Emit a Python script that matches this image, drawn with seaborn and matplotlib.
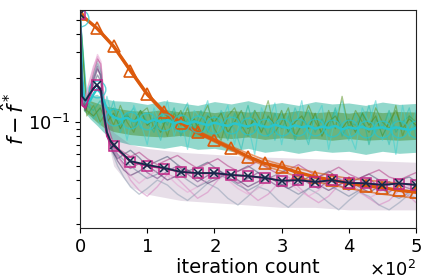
import matplotlib
matplotlib.use('Agg')
from matplotlib import pyplot as plt
import pandas as pd
import seaborn as sns

# noisy runs, iteration grid every 10
x_green = list(range(0, 501, 10))
teal_1 = [0.55, 0.13, 0.12, 0.14, 0.11, 0.125, 0.095, 0.115, 0.09, 0.12,
          0.10, 0.085, 0.115, 0.095, 0.125, 0.08, 0.105, 0.09, 0.12, 0.085,
          0.11, 0.095, 0.075, 0.115, 0.09, 0.13, 0.085, 0.10, 0.08, 0.115,
          0.09, 0.11, 0.075, 0.10, 0.12, 0.085, 0.105, 0.09, 0.125, 0.08,
          0.10, 0.095, 0.115, 0.07, 0.105, 0.09, 0.12, 0.085, 0.10, 0.11,
          0.09]
teal_2 = [0.55, 0.15, 0.105, 0.125, 0.10, 0.14, 0.085, 0.11, 0.125, 0.09,
          0.115, 0.10, 0.075, 0.12, 0.09, 0.11, 0.135, 0.08, 0.10, 0.115,
          0.085, 0.12, 0.10, 0.09, 0.065, 0.105, 0.12, 0.09, 0.11, 0.075,
          0.115, 0.085, 0.125, 0.095, 0.07, 0.11, 0.10, 0.08, 0.12, 0.095,
          0.075, 0.115, 0.09, 0.13, 0.085, 0.10, 0.07, 0.11, 0.095, 0.125,
          0.08]
teal_3 = [0.55, 0.14, 0.13, 0.095, 0.15, 0.10, 0.12, 0.075, 0.13, 0.10,
          0.07, 0.125, 0.095, 0.14, 0.08, 0.11, 0.065, 0.12, 0.105, 0.14,
          0.075, 0.10, 0.13, 0.07, 0.115, 0.095, 0.06, 0.125, 0.10, 0.135,
          0.07, 0.12, 0.09, 0.14, 0.075, 0.105, 0.13, 0.065, 0.11, 0.14,
          0.085, 0.065, 0.125, 0.10, 0.14, 0.075, 0.115, 0.06, 0.13, 0.08,
          0.12]
olive_1 = [0.55, 0.12, 0.11, 0.125, 0.10, 0.115, 0.09, 0.11, 0.10, 0.12,
           0.095, 0.105, 0.085, 0.11, 0.10, 0.12, 0.09, 0.105, 0.08, 0.11,
           0.10, 0.115, 0.085, 0.10, 0.12, 0.09, 0.105, 0.085, 0.11, 0.095,
           0.12, 0.085, 0.10, 0.11, 0.09, 0.115, 0.08, 0.10, 0.11, 0.09,
           0.105, 0.085, 0.115, 0.095, 0.11, 0.08, 0.10, 0.12, 0.09, 0.105,
           0.095]
olive_2 = [0.55, 0.11, 0.13, 0.10, 0.12, 0.095, 0.13, 0.10, 0.085, 0.115,
           0.125, 0.09, 0.11, 0.08, 0.115, 0.095, 0.125, 0.085, 0.105, 0.13,
           0.09, 0.075, 0.11, 0.125, 0.095, 0.08, 0.12, 0.10, 0.14, 0.085,
           0.10, 0.125, 0.08, 0.095, 0.13, 0.10, 0.085, 0.12, 0.09, 0.15,
           0.09, 0.12, 0.10, 0.085, 0.125, 0.10, 0.09, 0.13, 0.08, 0.11,
           0.10]

# spread of the noisy runs
x_band = [5, 15, 25, 35, 50] + list(range(75, 501, 25))
teal_hi = [0.15, 0.15, 0.155, 0.145, 0.14, 0.138, 0.132, 0.14, 0.135, 0.13, 0.138, 0.133,
           0.14, 0.131, 0.136, 0.13, 0.138, 0.133, 0.135, 0.13, 0.137, 0.132, 0.134]
teal_lo = [0.12, 0.105, 0.095, 0.085, 0.075, 0.07, 0.068, 0.066, 0.069, 0.065, 0.066, 0.063,
           0.066, 0.062, 0.064, 0.061, 0.064, 0.062, 0.063, 0.06, 0.063, 0.061, 0.062]
olive_hi = [0.14, 0.14, 0.135, 0.13, 0.125, 0.12, 0.118, 0.122, 0.117, 0.12, 0.116, 0.12,
            0.117, 0.119, 0.115, 0.12, 0.116, 0.118, 0.115, 0.119, 0.116, 0.118, 0.117]
olive_lo = [0.12, 0.11, 0.10, 0.092, 0.086, 0.082, 0.08, 0.079, 0.081, 0.078, 0.079, 0.077,
            0.079, 0.076, 0.078, 0.076, 0.077, 0.075, 0.077, 0.075, 0.076, 0.075, 0.076]

# wavy runs
x_purple = [0, 3, 8, 14, 20, 26, 31, 36, 41, 48,
            56, 65, 75, 88, 100, 115, 130, 145, 160, 175,
            190, 205, 220, 235, 250, 265, 280, 295, 310, 325,
            340, 355, 370, 385, 400, 415, 430, 445, 460, 475,
            490, 500]
purple_1 = [0.55, 0.15, 0.13, 0.16, 0.20, 0.24, 0.20, 0.11, 0.08, 0.066, 0.058, 0.052,
            0.048, 0.052, 0.045, 0.041, 0.046, 0.050, 0.044, 0.039, 0.043, 0.047,
            0.042, 0.038, 0.041, 0.045, 0.040, 0.036, 0.039, 0.043, 0.038, 0.035,
            0.040, 0.037, 0.034, 0.038, 0.041, 0.036, 0.033, 0.037, 0.035, 0.034]
purple_2 = [0.55, 0.17, 0.15, 0.19, 0.24, 0.28, 0.24, 0.13, 0.09, 0.072, 0.060, 0.050,
            0.040, 0.034, 0.031, 0.036, 0.044, 0.041, 0.035, 0.030, 0.033, 0.040,
            0.045, 0.039, 0.033, 0.029, 0.032, 0.038, 0.042, 0.036, 0.031, 0.028,
            0.031, 0.037, 0.040, 0.034, 0.030, 0.027, 0.029, 0.034, 0.031, 0.028]
purple_3 = [0.55, 0.14, 0.125, 0.15, 0.18, 0.21, 0.19, 0.105, 0.078, 0.063, 0.056, 0.060,
            0.064, 0.057, 0.050, 0.054, 0.058, 0.051, 0.046, 0.049, 0.053, 0.047,
            0.043, 0.046, 0.050, 0.045, 0.041, 0.044, 0.048, 0.043, 0.039, 0.042,
            0.046, 0.041, 0.038, 0.041, 0.044, 0.040, 0.037, 0.040, 0.042, 0.039]
purple_4 = [0.55, 0.16, 0.14, 0.17, 0.21, 0.26, 0.23, 0.12, 0.082, 0.062, 0.050, 0.042,
            0.036, 0.032, 0.035, 0.040, 0.037, 0.032, 0.029, 0.033, 0.038, 0.035,
            0.030, 0.027, 0.031, 0.036, 0.034, 0.029, 0.026, 0.030, 0.035, 0.032,
            0.028, 0.025, 0.029, 0.033, 0.031, 0.027, 0.025, 0.028, 0.032, 0.030]
purple_5 = [0.55, 0.15, 0.135, 0.165, 0.22, 0.27, 0.25, 0.14, 0.095, 0.075, 0.066, 0.062,
            0.058, 0.062, 0.056, 0.051, 0.055, 0.059, 0.053, 0.048, 0.052, 0.056,
            0.050, 0.046, 0.049, 0.054, 0.048, 0.044, 0.047, 0.051, 0.046, 0.042,
            0.045, 0.049, 0.044, 0.041, 0.044, 0.047, 0.042, 0.040, 0.043, 0.045]
purple_6 = [0.55, 0.14, 0.12, 0.145, 0.19, 0.23, 0.21, 0.115, 0.08, 0.064, 0.054, 0.047,
            0.043, 0.046, 0.050, 0.045, 0.040, 0.043, 0.047, 0.042, 0.038, 0.041,
            0.045, 0.040, 0.036, 0.039, 0.043, 0.038, 0.035, 0.038, 0.042, 0.037,
            0.034, 0.037, 0.040, 0.036, 0.033, 0.036, 0.039, 0.035, 0.033, 0.035]
purple_7 = [0.55, 0.16, 0.145, 0.18, 0.23, 0.29, 0.26, 0.14, 0.09, 0.07, 0.058, 0.049,
            0.043, 0.038, 0.042, 0.047, 0.043, 0.037, 0.033, 0.036, 0.041, 0.045,
            0.040, 0.035, 0.032, 0.035, 0.040, 0.044, 0.039, 0.034, 0.031, 0.034,
            0.039, 0.042, 0.037, 0.033, 0.030, 0.033, 0.037, 0.040, 0.036, 0.032]
purple_8 = [0.55, 0.15, 0.13, 0.16, 0.20, 0.25, 0.22, 0.12, 0.085, 0.068, 0.060, 0.055,
            0.050, 0.045, 0.041, 0.044, 0.049, 0.045, 0.040, 0.036, 0.039, 0.044,
            0.041, 0.037, 0.034, 0.037, 0.042, 0.039, 0.035, 0.032, 0.035, 0.040,
            0.037, 0.034, 0.031, 0.034, 0.038, 0.036, 0.032, 0.030, 0.033, 0.036]

# spread of the wavy runs
x_pband = [36, 41, 50, 75, 100, 150, 200, 250, 300, 350, 400, 450, 500]
purple_hi = [0.14, 0.12, 0.085, 0.07, 0.066, 0.062, 0.060, 0.058, 0.057, 0.056, 0.055, 0.054, 0.053]
purple_lo = [0.09, 0.075, 0.05, 0.036, 0.032, 0.029, 0.028, 0.027, 0.026, 0.026, 0.025, 0.025, 0.025]

# orange runs, every 25 iterations
x_orange = list(range(0, 501, 25))
orange_mean = [0.55, 0.44, 0.33, 0.225, 0.155, 0.117, 0.099, 0.085, 0.075, 0.066, 0.058,
               0.052, 0.049, 0.045, 0.042, 0.040, 0.038, 0.0365, 0.0355, 0.034, 0.033]
orange_hi = [0.55, 0.445, 0.335, 0.23, 0.158, 0.12, 0.101, 0.087, 0.077, 0.068, 0.061,
             0.055, 0.051, 0.048, 0.045, 0.043, 0.041, 0.040, 0.039, 0.038, 0.037]
orange_lo = [0.55, 0.435, 0.325, 0.22, 0.152, 0.114, 0.097, 0.083, 0.073, 0.064, 0.056,
             0.050, 0.046, 0.042, 0.039, 0.037, 0.035, 0.0335, 0.032, 0.031, 0.030]

# cyan mean
x_cyan = [0, 3, 6, 10, 15, 20, 25, 30, 35, 40, 45, 50] + list(range(60, 501, 10))
cyan_mean = [0.55, 0.21, 0.145, 0.135, 0.14, 0.155, 0.168, 0.16, 0.14, 0.123, 0.113, 0.108,
             0.104, 0.107, 0.101, 0.105, 0.099, 0.104, 0.100, 0.103, 0.098, 0.101,
             0.097, 0.101, 0.098, 0.095, 0.099, 0.096, 0.094, 0.098, 0.095, 0.093,
             0.097, 0.094, 0.092, 0.096, 0.093, 0.091, 0.095, 0.092, 0.094, 0.090,
             0.093, 0.091, 0.094, 0.089, 0.092, 0.090, 0.093, 0.089, 0.091, 0.092,
             0.089, 0.092, 0.090, 0.088, 0.091]
cyan_marks = [0.52, 0.168, 0.108, 0.104, 0.101, 0.100, 0.099, 0.097, 0.096, 0.095, 0.094,
              0.093, 0.093, 0.092, 0.092, 0.091, 0.091, 0.090, 0.090, 0.090, 0.090]

# navy / magenta means
x_mean = [0, 3, 8, 14, 20, 25, 31, 36, 40, 45, 50] + list(range(75, 501, 25))
navy_mean = [0.55, 0.15, 0.14, 0.155, 0.17, 0.18, 0.165, 0.11, 0.085, 0.075, 0.0696,
             0.054, 0.0508, 0.0485, 0.0455, 0.0447, 0.0447, 0.0434, 0.0427, 0.0414,
             0.0395, 0.040, 0.0388, 0.040, 0.0382, 0.038, 0.037, 0.038, 0.037]
magenta_mean = [0.55, 0.13, 0.125, 0.15, 0.17, 0.18, 0.16, 0.105, 0.08, 0.073, 0.068,
                0.0535, 0.050, 0.048, 0.0455, 0.0445, 0.0445, 0.0432, 0.0425, 0.0412,
                0.0397, 0.0398, 0.0388, 0.0398, 0.0384, 0.0381, 0.0372, 0.0378, 0.0372]


def long_df(x, runs):
    rows = []
    for name, vals in runs.items():
        for xi, v in zip(x, vals):
            rows.append((xi, v, name))
    return pd.DataFrame(rows, columns=["iteration", "gap", "run"])


sns.set_style("ticks")
plt.rcParams['font.family'] = ['DejaVu Sans']
plt.rcParams['text.color'] = 'black'
plt.rcParams['axes.labelcolor'] = 'black'
fig, ax = plt.subplots(figsize=(4.28, 2.8), dpi=100)
fig.subplots_adjust(left=0.187, right=0.972, bottom=0.186, top=0.964)

# bands behind the runs
ax.fill_between(x_band, teal_lo, teal_hi, color="#26b39a", alpha=0.5, lw=0)
ax.fill_between(x_band, olive_lo, olive_hi, color="#3f8a1f", alpha=0.45, lw=0)
ax.fill_between(x_pband, purple_lo, purple_hi, color="#7a4a80", alpha=0.18, lw=0)

green = long_df(x_green, {"t1": teal_1, "t2": teal_2, "t3": teal_3, "o1": olive_1, "o2": olive_2})
green_pal = {"t1": "#1fb49a", "t2": "#2cc0b8", "t3": "#3fd0cc", "o1": "#4a8a1c", "o2": "#5e9428"}
sns.lineplot(data=green, x="iteration", y="gap", hue="run", units="run", estimator=None,
             palette=green_pal, alpha=0.55, lw=0.9, legend=False, ax=ax)

purple = long_df(x_purple, {"p1": purple_1, "p2": purple_2, "p3": purple_3, "p4": purple_4,
                            "p5": purple_5, "p6": purple_6, "p7": purple_7, "p8": purple_8})
purple_pal = {"p1": "#6a2c7a", "p2": "#d77fbf", "p3": "#3d4f6e", "p4": "#8a9bb0",
              "p5": "#b0307f", "p6": "#4a2060", "p7": "#e6a0d0", "p8": "#6c7f99"}
sns.lineplot(data=purple, x="iteration", y="gap", hue="run", units="run", estimator=None,
             palette=purple_pal, alpha=0.5, lw=1.0, legend=False, ax=ax)

orange = long_df(x_orange, {"hi": orange_hi, "lo": orange_lo})
sns.lineplot(data=orange, x="iteration", y="gap", units="run", estimator=None,
             color="#dc5a0c", alpha=0.6, lw=1.2, legend=False, ax=ax)
sns.lineplot(x=x_orange, y=orange_mean, color="#dc5a0c", lw=2.4, marker="^", ms=8,
             markerfacecolor="none", markeredgecolor="#dc5a0c", markeredgewidth=1.2, ax=ax)

sns.lineplot(x=x_cyan, y=cyan_mean, color="#29c5cc", lw=1.8, ax=ax)
sns.lineplot(x=x_orange, y=cyan_marks, color="#29c5cc", lw=0, marker="o", ms=12, alpha=0.75,
             markerfacecolor="none", markeredgecolor="#29c5cc", markeredgewidth=1.0, ax=ax)

marks = [i for i, v in enumerate(x_mean) if v % 25 == 0]
sns.lineplot(x=x_mean, y=magenta_mean, color="#c02585", lw=1.3, marker="s", ms=7,
             markevery=marks, markerfacecolor="none", markeredgecolor="#c02585",
             markeredgewidth=1.1, ax=ax)
sns.lineplot(x=x_mean, y=navy_mean, color="#15294a", lw=1.3, marker="x", ms=6,
             markevery=marks, markeredgecolor="#15294a", markeredgewidth=1.1, ax=ax)

ax.set_yscale("log")
ax.set_xlim(0, 500)
ax.set_ylim(0.0188, 0.585)
ax.set_xticks([0, 100, 200, 300, 400, 500])
ax.ticklabel_format(axis="x", style="sci", scilimits=(0, 0), useMathText=True)
ax.xaxis.get_offset_text().set_fontsize(13)
ax.tick_params(labelsize=13, colors="black")
ax.tick_params(which="minor", length=3, width=0.8, colors="black")
ax.set_xlabel("iteration count", fontsize=14, labelpad=2)
ax.set_ylabel(r"$f - \hat{f}^*$", fontsize=15)
ax.yaxis.set_label_coords(-0.155, 0.5)
for s in ax.spines.values():
    s.set_visible(True)
    s.set_color("#222222")

plt.savefig("out.png", dpi=100)
